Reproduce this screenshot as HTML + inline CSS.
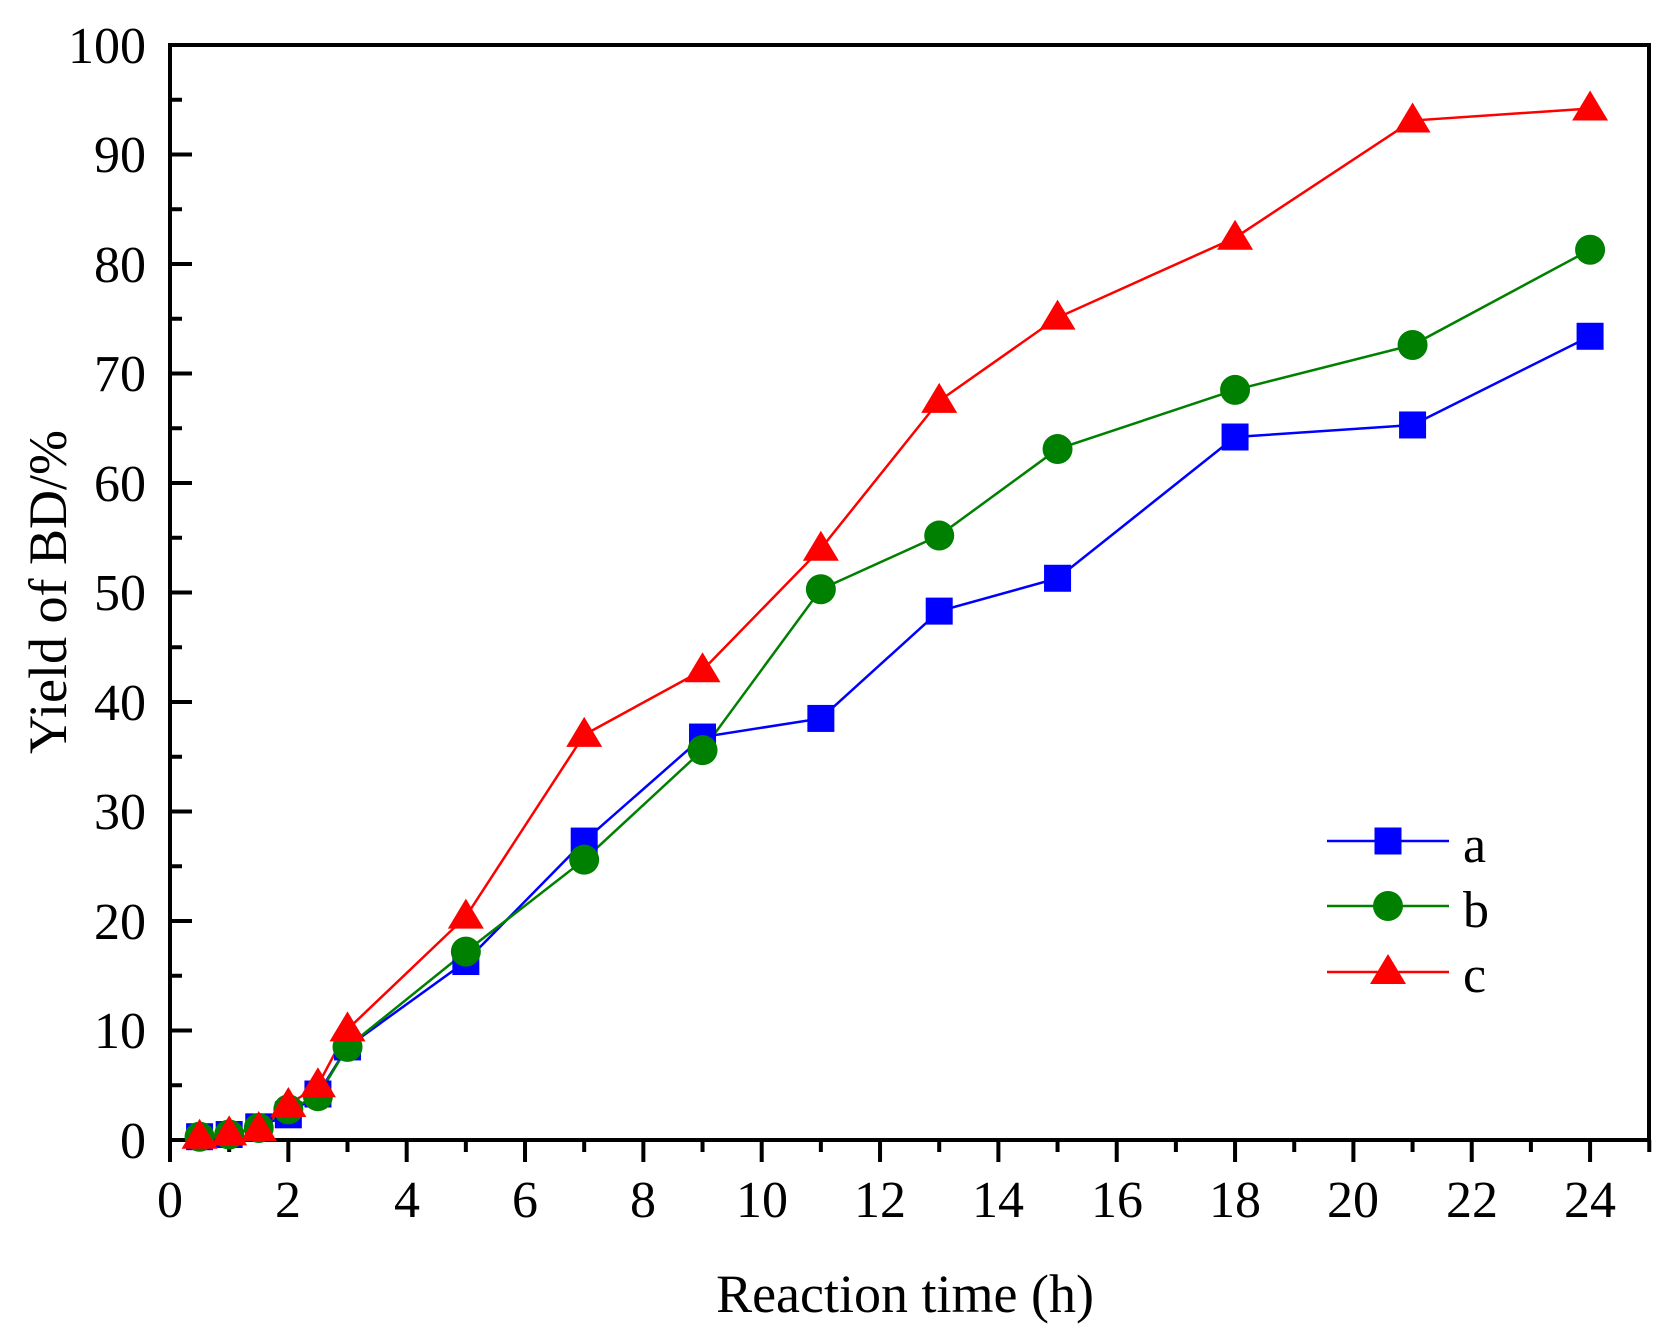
<!DOCTYPE html><html><head><style>body{margin:0;background:#fff}svg{display:block}text{font-family:"Liberation Serif",serif;fill:#000}</style></head><body>
<svg id="s" width="1678" height="1342" xmlns="http://www.w3.org/2000/svg">
<g font-size="52" text-anchor="end">
<text x="146" y="1158">0</text><text x="146" y="1048">10</text><text x="146" y="939">20</text><text x="146" y="829">30</text><text x="146" y="720">40</text><text x="146" y="610">50</text><text x="146" y="501">60</text><text x="146" y="391">70</text><text x="146" y="282">80</text><text x="146" y="172">90</text><text x="146" y="63">100</text>
</g>
<g font-size="52" text-anchor="middle">
<text x="170" y="1217">0</text><text x="288" y="1217">2</text><text x="407" y="1217">4</text><text x="525" y="1217">6</text><text x="643" y="1217">8</text><text x="762" y="1217">10</text><text x="880" y="1217">12</text><text x="998" y="1217">14</text><text x="1117" y="1217">16</text><text x="1235" y="1217">18</text><text x="1353" y="1217">20</text><text x="1472" y="1217">22</text><text x="1590" y="1217">24</text>
</g>
<text x="905" y="1312" font-size="54" text-anchor="middle">Reaction time (h)</text>
<text transform="translate(66,592) rotate(-90)" font-size="54" text-anchor="middle">Yield of BD/%</text>
<text x="1463" y="862" font-size="52">a</text><text x="1463" y="927" font-size="52">b</text><text x="1463" y="992" font-size="52">c</text>
<g id="g"></g>
</svg>
<script>
var g=document.getElementById('g'),h='';
function X(t){return 170+t*59.17}function Y(v){return 1140-v*10.95}
h+='<rect x="170" y="45" width="1479" height="1095" fill="none" stroke="#000" stroke-width="4"/>';
for(var i=0;i<=20;i++){var y=Y(i*5),l=i%2?12:22;h+='<line x1="170" x2="'+(170+l)+'" y1="'+y+'" y2="'+y+'" stroke="#000" stroke-width="4"/>';}
for(var i=0;i<=25;i++){var x=X(i),l=i%2?12:22;h+='<line x1="'+x+'" x2="'+x+'" y1="1140" y2="'+(1140+l)+'" stroke="#000" stroke-width="4"/>';}
var T=[0.5,1,1.5,2,2.5,3,5,7,9,11,13,15,18,21,24];
var D=[["#0000ff","s",[0.3,0.5,1.2,2.3,4.2,8.5,16.3,27.3,36.8,38.5,48.3,51.3,64.2,65.3,73.4]],
["#008000","c",[0.3,0.5,1.1,2.8,4.0,8.5,17.2,25.6,35.6,50.3,55.2,63.1,68.5,72.6,81.3]],
["#ff0000","t",[0.3,0.6,1.0,3.2,5.0,10.1,20.4,37.0,42.9,54.0,67.5,75.1,82.4,93.1,94.2]]];
function M(k,x,y,c){if(k=="s")return '<rect x="'+(x-13.5)+'" y="'+(y-13.5)+'" width="27" height="27" fill="'+c+'"/>';
if(k=="c")return '<circle cx="'+x+'" cy="'+y+'" r="15" fill="'+c+'"/>';
return '<polygon points="'+x+','+(y-18)+' '+(x+18)+','+(y+12)+' '+(x-18)+','+(y+12)+'" fill="'+c+'"/>';}
var LY=[841,906,972];
D.forEach(function(d,j){var p=T.map(function(t,i){return X(t)+','+Y(d[2][i])}).join(' ');
h+='<polyline points="'+p+'" fill="none" stroke="'+d[0]+'" stroke-width="2.5"/>';
h+='<line x1="1327" x2="1449" y1="'+LY[j]+'" y2="'+LY[j]+'" stroke="'+d[0]+'" stroke-width="2.5"/>';});
D.forEach(function(d,j){T.forEach(function(t,i){h+=M(d[1],X(t),Y(d[2][i]),d[0]);});h+=M(d[1],1388,LY[j],d[0]);});
g.innerHTML=h;
</script>
</body></html>
